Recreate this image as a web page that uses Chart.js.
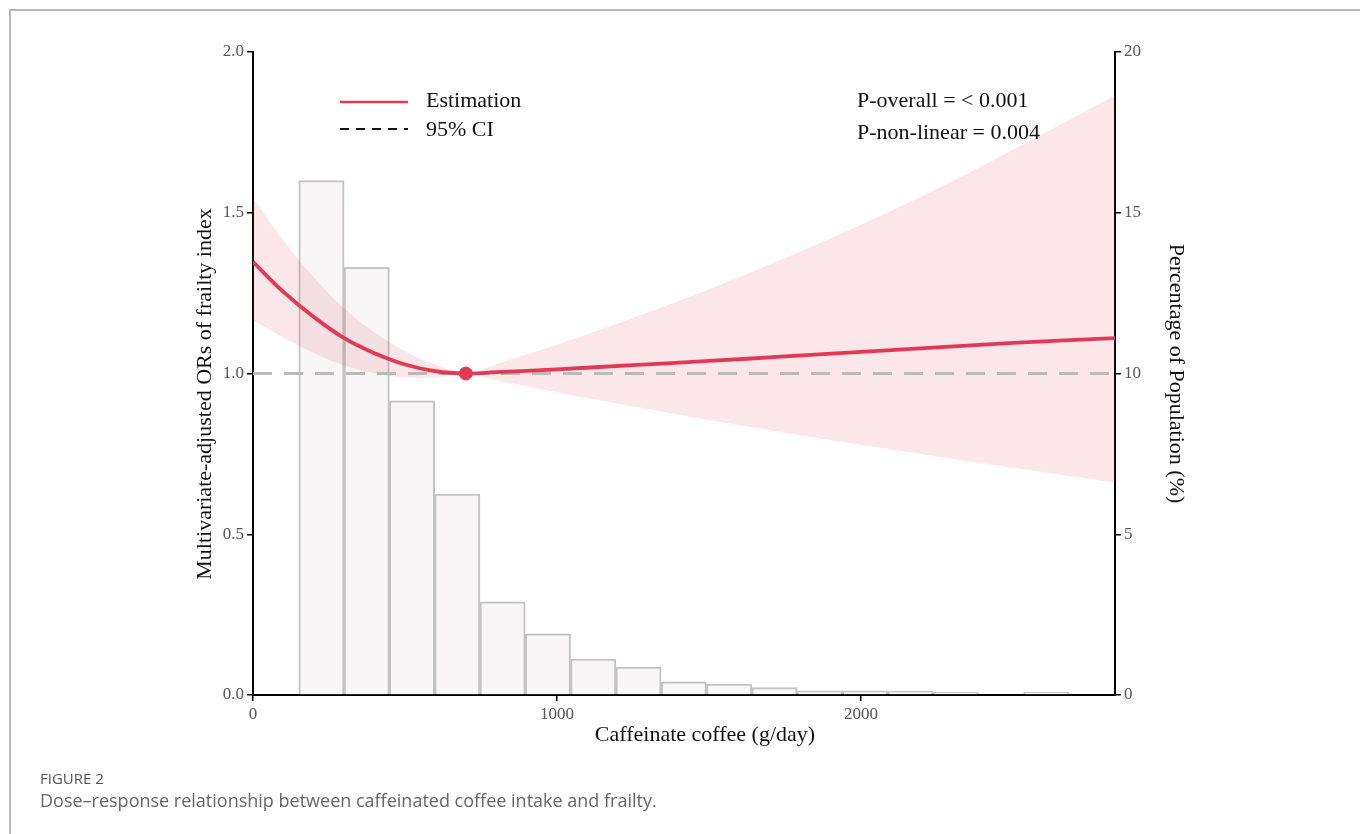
<!DOCTYPE html>
<html>
<head>
<meta charset="utf-8">
<script src="https://cdn.jsdelivr.net/npm/chart.js@4.4.1/dist/chart.umd.min.js"></script>
<style>
  body { margin: 0; background: #fff; }
  #frame { position: absolute; left: 9px; top: 9px; width: 1360px; height: 830px;
           border-top: 2px solid #b9b9b9; border-left: 2px solid #b9b9b9; }
  #chart { position: absolute; left: 0; top: 0; }
  .cap1 { position: absolute; left: 40px; top: 768px; font: 15px "Open Sans", sans-serif; color: #555; }
  .cap2 { position: absolute; left: 40px; top: 788px; font: 18px "Open Sans", sans-serif; color: #666; }
</style>
</head>
<body>
<div id="frame"></div>
<canvas id="chart" width="1360" height="834"></canvas>
<div class="cap1">FIGURE 2</div>
<div class="cap2">Dose–response relationship between caffeinated coffee intake and frailty.</div>
<script>
// histogram of intake (right axis, % of population)
const binCenters = [225, 374, 523, 672, 821, 970, 1119, 1268, 1417, 1566, 1715, 1864, 2013, 2162, 2311, 2460, 2609];
const binPercent = [16.0, 13.3, 9.15, 6.25, 2.9, 1.9, 1.12, 0.87, 0.41, 0.34, 0.23, 0.13, 0.13, 0.12, 0.08, 0.0, 0.08];

// dose-response curve (left axis, OR)
const doseX   = [0, 100, 200, 300, 400, 500, 600, 700, 800, 1000, 1250, 1500, 1750, 2000, 2250, 2500, 2835];
const orEst   = [1.347, 1.254, 1.176, 1.110, 1.063, 1.028, 1.007, 1.0, 1.004, 1.013, 1.026, 1.039, 1.053, 1.067, 1.081, 1.095, 1.110];
const orUpper = [1.546, 1.414, 1.299, 1.202, 1.128, 1.069, 1.027, 1.0, 1.029, 1.090, 1.173, 1.262, 1.359, 1.463, 1.575, 1.696, 1.865];
const orLower = [1.166, 1.112, 1.064, 1.025, 1.001, 0.988, 0.988, 1.0, 0.980, 0.942, 0.898, 0.855, 0.816, 0.778, 0.742, 0.707, 0.661];

const xTicks = [0, 1000, 2000];
const refPoint = { x: 700, y: 1.0 };
const xMax = 2835;

const RED = '#e23a55';
const serif = '"Liberation Serif", "Times New Roman", serif';

const pts = (ys) => doseX.map((x, i) => ({ x: x, y: ys[i] }));

const legendAndText = {
  id: 'legendAndText',
  afterDraw(chart) {
    const ctx = chart.ctx;
    ctx.save();
    ctx.lineWidth = 2.5;
    ctx.strokeStyle = RED;
    ctx.beginPath(); ctx.moveTo(340, 102); ctx.lineTo(408, 102); ctx.stroke();
    ctx.strokeStyle = '#111';
    ctx.lineWidth = 2;
    ctx.setLineDash([9, 7]);
    ctx.beginPath(); ctx.moveTo(340, 129); ctx.lineTo(408, 129); ctx.stroke();
    ctx.setLineDash([]);
    ctx.fillStyle = '#111';
    ctx.font = '22px ' + serif;
    ctx.textBaseline = 'middle';
    ctx.fillText('Estimation', 426, 101);
    ctx.fillText('95% CI', 426, 130);
    ctx.fillText('P-overall = < 0.001', 857, 101);
    ctx.fillText('P-non-linear = 0.004', 857, 133);

    // axis titles
    ctx.textAlign = 'center';
    ctx.fillText('Caffeinate coffee (g/day)', 705, 735);
    ctx.translate(205, 394);
    ctx.rotate(-Math.PI / 2);
    ctx.fillText('Multivariate-adjusted ORs of frailty index', 0, 0);
    ctx.restore();
  }
};

const tickGrid = { display: true, drawOnChartArea: false, drawTicks: true, tickLength: 6, color: '#000', lineWidth: 1.5 };
const tickFont = { family: serif, size: 17 };

new Chart(document.getElementById('chart'), {
  type: 'bar',
  data: {
    datasets: [
      {
        type: 'scatter', data: [refPoint], xAxisID: 'x', yAxisID: 'y', order: 0,
        pointRadius: 6.5, pointBackgroundColor: RED, pointBorderColor: RED
      },
      {
        type: 'line', data: pts(orEst), xAxisID: 'x', yAxisID: 'y', order: 1,
        borderColor: RED, borderWidth: 3.8, pointRadius: 0, tension: 0.4, fill: false
      },
      {
        type: 'line', data: [{ x: 0, y: 1 }, { x: xMax, y: 1 }], xAxisID: 'x', yAxisID: 'y', order: 2,
        borderColor: '#bdb8ba', borderWidth: 3, borderDash: [19, 12], pointRadius: 0, fill: false
      },
      {
        type: 'line', data: pts(orUpper), xAxisID: 'x', yAxisID: 'y', order: 3,
        borderWidth: 0, borderColor: 'rgba(0,0,0,0)', pointRadius: 0, tension: 0.4,
        fill: '+1', backgroundColor: 'rgba(226,58,85,0.12)'
      },
      {
        type: 'line', data: pts(orLower), xAxisID: 'x', yAxisID: 'y', order: 4,
        borderWidth: 0, borderColor: 'rgba(0,0,0,0)', pointRadius: 0, tension: 0.4, fill: false
      },
      {
        type: 'bar', data: binCenters.map((c, i) => ({ x: c, y: binPercent[i] })), xAxisID: 'x', yAxisID: 'y2', order: 10,
        backgroundColor: '#f8f6f7', borderColor: '#c3c3c3', borderWidth: 2,
        barPercentage: 1, categoryPercentage: 1
      }
    ]
  },
  options: {
    responsive: false,
    animation: false,
    layout: { padding: { left: 193, right: 171, top: 52, bottom: 87 } },
    plugins: { legend: { display: false }, tooltip: { enabled: false } },
    scales: {
      x: {
        type: 'linear', min: 0, max: xMax, offset: false,
        grid: Object.assign({ offset: false }, tickGrid),
        border: { display: true, color: '#000', width: 2 },
        ticks: { color: '#555', font: tickFont, padding: 3, maxRotation: 0, callback: (v) => String(v) },
        afterBuildTicks(s) { s.ticks = xTicks.map((v) => ({ value: v })); },
        afterFit(s) { s.height = 52; }
      },
      y: {
        position: 'left', min: 0, max: 2.0,
        grid: tickGrid,
        border: { display: true, color: '#000', width: 2 },
        ticks: { stepSize: 0.5, color: '#555', font: tickFont, padding: 3, callback: (v) => v.toFixed(1) },
        afterFit(s) { s.width = 60; }
      },
      y2: {
        position: 'right', min: 0, max: 20,
        grid: tickGrid,
        border: { display: true, color: '#000', width: 2 },
        ticks: { stepSize: 5, color: '#555', font: tickFont, padding: 3 },
        title: { display: true, text: 'Percentage of Population (%)', color: '#111', font: { family: serif, size: 22 }, padding: 0 },
        afterFit(s) { s.width = 74; }
      }
    }
  },
  plugins: [legendAndText]
});
</script>
</body>
</html>
